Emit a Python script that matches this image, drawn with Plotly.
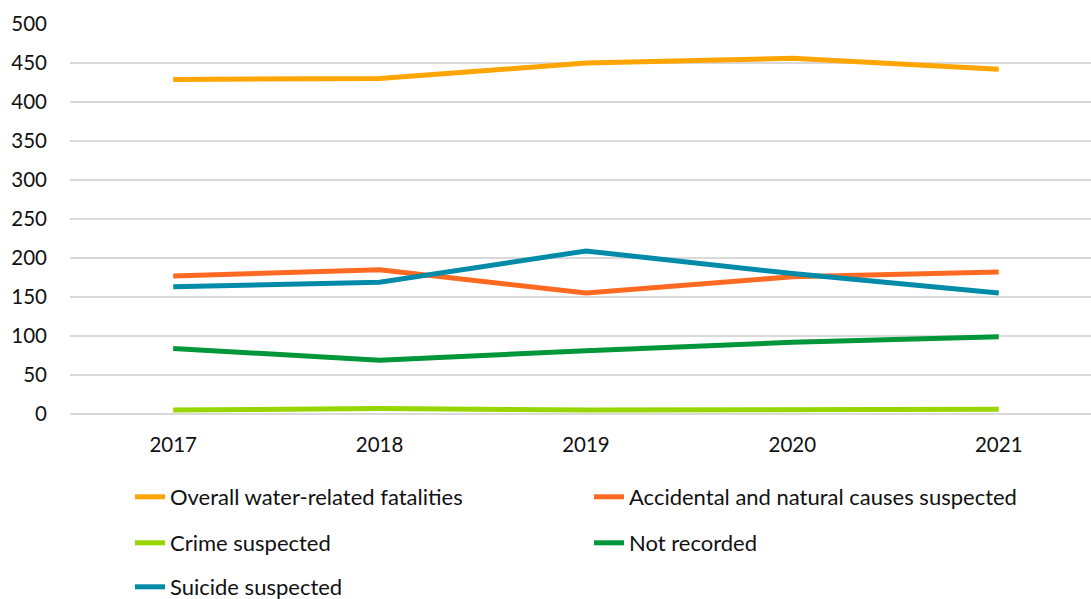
import plotly.graph_objects as go

years = ["2017", "2018", "2019", "2020", "2021"]
overall = [429, 430, 450, 456, 442]
accidental = [177, 185, 155, 176, 182]
crime = [5, 7, 5, 6, 6]
not_recorded = [84, 69, 81, 92, 99]
suicide = [163, 169, 209, 180, 155]

series = [
    ("Overall water-related fatalities", overall, "#FFA500", "legend"),
    ("Accidental and natural causes suspected", accidental, "#FF6A22", "legend"),
    ("Crime suspected", crime, "#97D600", "legend2"),
    ("Not recorded", not_recorded, "#00963A", "legend2"),
    ("Suicide suspected", suicide, "#008CA8", "legend3"),
]

fig = go.Figure()
for name, vals, color, lg in series:
    fig.add_trace(go.Scatter(
        x=years, y=vals, name=name, mode="lines",
        line=dict(color=color, width=5),
        legend=lg,
    ))

tick_font = dict(family="Lato, 'Open Sans', sans-serif", size=20.5, color="#111111")
leg_font = dict(family="Lato, 'Open Sans', sans-serif", size=22, color="#111111")
legend_common = dict(
    orientation="h", xref="container", yref="container",
    xanchor="left", yanchor="middle", entrywidth=414,
    font=leg_font, bgcolor="rgba(0,0,0,0)", itemwidth=30,
)
fig.update_layout(
    width=1091, height=599,
    margin=dict(l=70, r=0, t=24, b=185),
    plot_bgcolor="white", paper_bgcolor="white",
    font=tick_font,
    showlegend=True,
    legend=dict(**legend_common, x=130 / 1091, y=1 - 497 / 599),
    legend2=dict(**legend_common, x=130 / 1091, y=1 - 543 / 599),
    legend3=dict(**legend_common, x=130 / 1091, y=1 - 587 / 599),
    xaxis=dict(
        type="category", range=[-0.5, 4.447],
        showgrid=False, showline=False, zeroline=False,
        ticks="", ticklabelstandoff=16, tickfont=tick_font,
    ),
    yaxis=dict(
        range=[0, 500], tick0=0, dtick=50,
        showgrid=True, gridcolor="#D9D9D9", gridwidth=1.5,
        zeroline=True, zerolinecolor="#D9D9D9", zerolinewidth=1.5,
        showline=False, ticks="", ticklabelstandoff=22, tickfont=tick_font,
    ),
)

fig.write_html("out.html", config={"displayModeBar": False},
               post_script="document.body.style.margin='0';")
